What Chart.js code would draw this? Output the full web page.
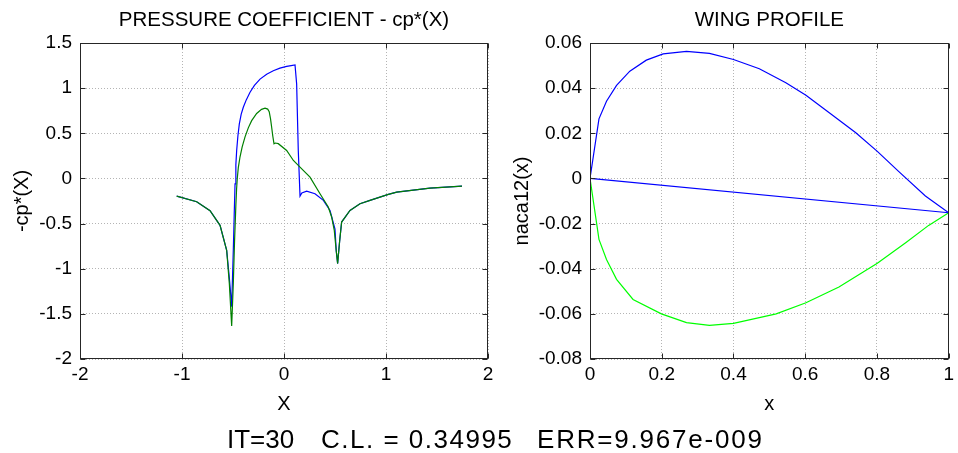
<!DOCTYPE html>
<html>
<head>
<meta charset="utf-8">
<script src="https://cdn.jsdelivr.net/npm/chart.js@4.4.1/dist/chart.umd.min.js"></script>
<style>
  body { margin: 0; background: #fff; width: 958px; height: 453px; overflow: hidden; position: relative; font-family: "Liberation Sans", Arial, sans-serif; }
  #cpChart { position: absolute; left: 0; top: 0; }
  #wingChart { position: absolute; left: 500px; top: 0; }
  .info span { position: absolute; top: 424px; font-size: 26px; line-height: 30px; white-space: pre; color: #000; }
</style>
</head>
<body>
<canvas id="cpChart" width="500" height="453"></canvas>
<canvas id="wingChart" width="458" height="453"></canvas>
<div class="info">
  <span style="left:227px">IT=30</span>
  <span style="left:321px; letter-spacing:1.5px">C.L. = 0.34995</span>
  <span style="left:537px; letter-spacing:1.8px">ERR=9.967e-009</span>
</div>
<script>
const FONT = "'Liberation Sans', Arial, sans-serif";

// pressure coefficient -cp*(X), blue run
const cpBlueX = [-1.052, -0.856, -0.725, -0.627, -0.562, -0.536, -0.513, -0.497, -0.488, -0.48, -0.472, -0.464, -0.452, -0.438, -0.42, -0.399, -0.37, -0.333, -0.29, -0.235, -0.17, -0.105, -0.04, 0.026, 0.07, 0.108, 0.124, 0.14, 0.157, 0.175, 0.222, 0.304, 0.386, 0.451, 0.5, 0.512, 0.526, 0.545, 0.565, 0.647, 0.745, 0.843, 1.023, 1.105, 1.431, 1.745];
const cpBlueY = [-0.196, -0.258, -0.357, -0.519, -0.796, -1.1, -1.42, -0.796, -0.4, -0.06, 0.15, 0.31, 0.47, 0.604, 0.71, 0.788, 0.87, 0.954, 1.03, 1.1, 1.155, 1.193, 1.222, 1.241, 1.25, 1.256, 1.046, 0.31, -0.196, -0.16, -0.14, -0.169, -0.243, -0.354, -0.56, -0.8, -0.943, -0.7, -0.483, -0.354, -0.28, -0.243, -0.177, -0.151, -0.107, -0.085];

// pressure coefficient -cp*(X), green run
const cpGreenX = [-1.052, -0.856, -0.725, -0.627, -0.562, -0.536, -0.513, -0.497, -0.485, -0.472, -0.465, -0.458, -0.448, -0.431, -0.41, -0.382, -0.35, -0.317, -0.268, -0.22, -0.186, -0.16, -0.145, -0.132, -0.121, -0.11, -0.098, -0.085, -0.056, 0.026, 0.092, 0.157, 0.255, 0.353, 0.434, 0.467, 0.493, 0.512, 0.526, 0.545, 0.565, 0.647, 0.745, 0.843, 1.023, 1.105, 1.431, 1.745];
const cpGreenY = [-0.196, -0.258, -0.357, -0.519, -0.796, -1.164, -1.635, -1.164, -0.7, -0.3, -0.12, 0.0, 0.12, 0.24, 0.35, 0.46, 0.56, 0.64, 0.72, 0.765, 0.778, 0.768, 0.74, 0.66, 0.567, 0.47, 0.383, 0.392, 0.385, 0.31, 0.199, 0.125, 0.014, -0.169, -0.317, -0.427, -0.575, -0.8, -0.943, -0.7, -0.483, -0.354, -0.28, -0.243, -0.177, -0.151, -0.107, -0.085];

// naca12 wing profile
const upperX = [0, 0.025, 0.046, 0.074, 0.111, 0.157, 0.204, 0.269, 0.333, 0.4, 0.472, 0.546, 0.602, 0.667, 0.741, 0.801, 0.861, 0.935, 1.0];
const upperY = [0, 0.0264, 0.0342, 0.0412, 0.0475, 0.0524, 0.0552, 0.0563, 0.0554, 0.0527, 0.0486, 0.0424, 0.0368, 0.0291, 0.0202, 0.012, 0.003, -0.0078, -0.0152];
const lowerX = [0, 0.025, 0.046, 0.074, 0.12, 0.199, 0.269, 0.333, 0.4, 0.519, 0.602, 0.694, 0.801, 0.88, 0.944, 1.0];
const lowerY = [0, -0.027, -0.0359, -0.0447, -0.0536, -0.06, -0.0639, -0.0651, -0.0642, -0.06, -0.0551, -0.0481, -0.0376, -0.0285, -0.0208, -0.0152];
const chordX = [0, 1.0];
const chordY = [0, -0.0152];

// ticks
const cpXTicks = [-2, -1, 0, 1, 2];
const cpXLabels = ["-2", "-1", "0", "1", "2"];
const cpYTicks = [-2, -1.5, -1, -0.5, 0, 0.5, 1, 1.5];
const cpYLabels = ["-2", "-1.5", "-1", "-0.5", "0", "0.5", "1", "1.5"];
const wingXTicks = [0, 0.2, 0.4, 0.6, 0.8, 1];
const wingXLabels = ["0", "0.2", "0.4", "0.6", "0.8", "1"];
const wingYTicks = [-0.08, -0.06, -0.04, -0.02, 0, 0.02, 0.04, 0.06];
const wingYLabels = ["-0.08", "-0.06", "-0.04", "-0.02", "0", "0.02", "0.04", "0.06"];

Chart.defaults.color = "#000";
Chart.defaults.font.family = FONT;

const toPoints = (xs, ys) => xs.map((x, i) => ({ x: x, y: ys[i] }));

// matlab style box with inward ticks on all four sides
const boxPlugin = {
  id: "box",
  afterDraw(chart) {
    const { ctx, chartArea: a, scales } = chart;
    const L = Math.round(a.left) + 0.5, R = Math.round(a.right) - 0.5;
    const T = Math.round(a.top) + 0.5, B = Math.round(a.bottom) - 0.5;
    ctx.save();
    ctx.strokeStyle = "#262626";
    ctx.lineWidth = 1;
    ctx.beginPath();
    for (const t of scales.x.ticks) {
      const px = Math.round(scales.x.getPixelForValue(t.value)) + 0.5;
      ctx.moveTo(px, B); ctx.lineTo(px, B - 5);
      ctx.moveTo(px, T); ctx.lineTo(px, T + 5);
    }
    for (const t of scales.y.ticks) {
      const py = Math.round(scales.y.getPixelForValue(t.value)) + 0.5;
      ctx.moveTo(L, py); ctx.lineTo(L + 5, py);
      ctx.moveTo(R, py); ctx.lineTo(R - 5, py);
    }
    ctx.stroke();
    ctx.strokeRect(L, T, R - L, B - T);
    ctx.restore();
  }
};

const makeScale = (isX, min, max, values, labels, title, size, titlePad) => ({
  type: "linear",
  min: min,
  max: max,
  afterBuildTicks: (scale) => { scale.ticks = values.map(v => ({ value: v })); },
  afterFit: (scale) => {
    if (isX) scale.height = size; else scale.width = size;
  },
  grid: { color: "#b4b4b4", lineWidth: 1, drawTicks: false },
  border: { display: false, dash: [1, 2] },
  ticks: {
    autoSkip: false,
    maxRotation: 0,
    padding: isX ? 4 : 8,
    font: { size: 19 },
    callback: (value, i) => labels[i]
  },
  title: {
    display: true,
    text: title,
    font: { size: 20 },
    padding: isX ? { top: 0, bottom: titlePad } : { top: titlePad, bottom: 0 }
  }
});

const titleOpts = (text) => ({
  display: true,
  text: text,
  fullSize: false,
  font: { size: 20.5, weight: "normal", lineHeight: 1.2 },
  padding: { top: 8, bottom: 10.4 }
});

new Chart(document.getElementById("cpChart"), {
  type: "scatter",
  data: {
    datasets: [
      { data: toPoints(cpGreenX, cpGreenY), showLine: true, borderColor: "#008000", borderWidth: 1.2, pointRadius: 0, fill: false },
      { data: toPoints(cpBlueX, cpBlueY), showLine: true, borderColor: "#0000ff", borderWidth: 1.2, pointRadius: 0, fill: false }
    ]
  },
  options: {
    responsive: false,
    animation: false,
    devicePixelRatio: 1,
    layout: { padding: { left: 0, right: 12, top: 0, bottom: 0 } },
    plugins: { legend: { display: false }, tooltip: { enabled: false }, title: titleOpts("PRESSURE COEFFICIENT - cp*(X)") },
    scales: {
      x: makeScale(true, -2, 2, cpXTicks, cpXLabels, "X", 94, 37),
      y: makeScale(false, -2, 1.5, cpYTicks, cpYLabels, "-cp*(X)", 80, 10)
    }
  },
  plugins: [boxPlugin]
});

new Chart(document.getElementById("wingChart"), {
  type: "scatter",
  data: {
    datasets: [
      { data: toPoints(upperX, upperY), showLine: true, borderColor: "#0000ff", borderWidth: 1.2, pointRadius: 0, fill: false },
      { data: toPoints(chordX, chordY), showLine: true, borderColor: "#0000ff", borderWidth: 1.2, pointRadius: 0, fill: false },
      { data: toPoints(lowerX, lowerY), showLine: true, borderColor: "#00ff00", borderWidth: 1.2, pointRadius: 0, fill: false }
    ]
  },
  options: {
    responsive: false,
    animation: false,
    devicePixelRatio: 1,
    layout: { padding: { left: 0, right: 8, top: 0, bottom: 0 } },
    plugins: { legend: { display: false }, tooltip: { enabled: false }, title: titleOpts("WING PROFILE") },
    scales: {
      x: makeScale(true, 0, 1, wingXTicks, wingXLabels, "x", 94, 37),
      y: makeScale(false, -0.08, 0.06, wingYTicks, wingYLabels, "naca12(x)", 90, 10)
    }
  },
  plugins: [boxPlugin]
});
</script>
</body>
</html>
